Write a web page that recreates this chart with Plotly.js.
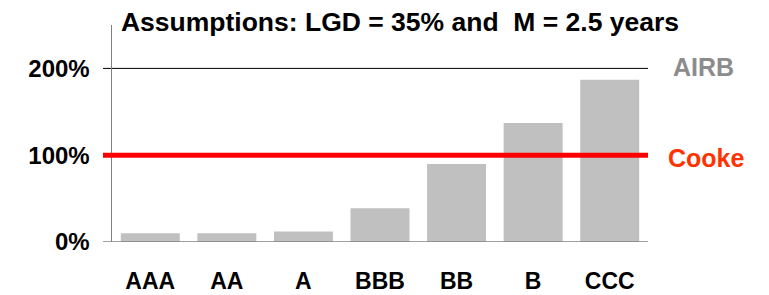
<!DOCTYPE html>
<html>
<head>
<meta charset="utf-8">
<script src="https://cdn.plot.ly/plotly-3.0.1.min.js"></script>
<style>
html,body{margin:0;padding:0;background:#fff;}
#chart{width:769px;height:295px;}
</style>
</head>
<body>
<div id="chart"></div>
<script>
// Data
const ratings = ["AAA", "AA", "A", "BBB", "BB", "B", "CCC"];
const airbCapital = [0.10, 0.10, 0.12, 0.39, 0.90, 1.37, 1.87];
const cookeLevel = 1.0;
const yTickValues = [0, 1, 2];
const yTickLabels = ["0%", "100%", "200%"];
const titleText = "Assumptions: LGD = 35% and  M = 2.5 years";

const FONT = "Liberation Sans, Arial, sans-serif";
const L = 112, R = 121, T = 25, B = 53;
const plotW = 769 - L - R;
const tickExt = -9 / plotW;

const traces = [{
  type: "bar",
  x: ratings,
  y: airbCapital,
  marker: {color: "#C0C0C0", line: {width: 0}},
  hoverinfo: "none"
}];

const layout = {
  width: 769, height: 295,
  margin: {l: L, r: R, t: T, b: B, pad: 0},
  paper_bgcolor: "#ffffff",
  plot_bgcolor: "#ffffff",
  showlegend: false,
  bargap: 0.23,
  font: {family: FONT, color: "#000"},
  title: {
    text: "<b>" + titleText + "</b>",
    font: {family: FONT, size: 26.5, color: "#000"},
    xref: "container", x: 400 / 769, xanchor: "center",
    yref: "container", y: 1 - 22 / 295, yanchor: "middle"
  },
  xaxis: {
    type: "category",
    showgrid: false, zeroline: false, showline: false,
    ticks: "",
    ticklabelstandoff: 23,
    tickfont: {family: FONT, size: 23, color: "#000", weight: "bold"}
  },
  yaxis: {
    range: [0, 2.5],
    tickvals: yTickValues,
    ticktext: yTickLabels,
    showgrid: false,
    zeroline: false,
    showline: true, linecolor: "#808080", linewidth: 1.5,
    ticks: "",
    ticklabelstandoff: 16,
    tickfont: {family: FONT, size: 24, color: "#000", weight: "bold"}
  },
  shapes: [
    // 200% gridline (with tick)
    {type: "line", xref: "paper", yref: "y", x0: tickExt, x1: 1, y0: yTickValues[2], y1: yTickValues[2],
     line: {color: "#000000", width: 1}, layer: "below"},
    // zero line
    {type: "line", xref: "paper", yref: "y", x0: tickExt, x1: 1, y0: yTickValues[0], y1: yTickValues[0],
     line: {color: "#808080", width: 1.5}, layer: "above"},
    // Cooke line
    {type: "line", xref: "paper", yref: "y", x0: tickExt, x1: 1, y0: cookeLevel, y1: cookeLevel,
     line: {color: "#FF0000", width: 5}, layer: "above"}
  ],
  annotations: [
    {text: "<b>AIRB</b>", xref: "paper", yref: "y", x: 1, y: yTickValues[2], xanchor: "left", yanchor: "middle",
     xshift: 23, yshift: 1, showarrow: false, font: {family: FONT, size: 25, color: "#8C8C8C"}},
    {text: "<b>Cooke</b>", xref: "paper", yref: "y", x: 1, y: cookeLevel, xanchor: "left", yanchor: "middle",
     xshift: 18, yshift: -3, showarrow: false, font: {family: FONT, size: 25, color: "#FF3300"}}
  ]
};

Plotly.newPlot("chart", traces, layout, {staticPlot: true, displayModeBar: false});
</script>
</body>
</html>
